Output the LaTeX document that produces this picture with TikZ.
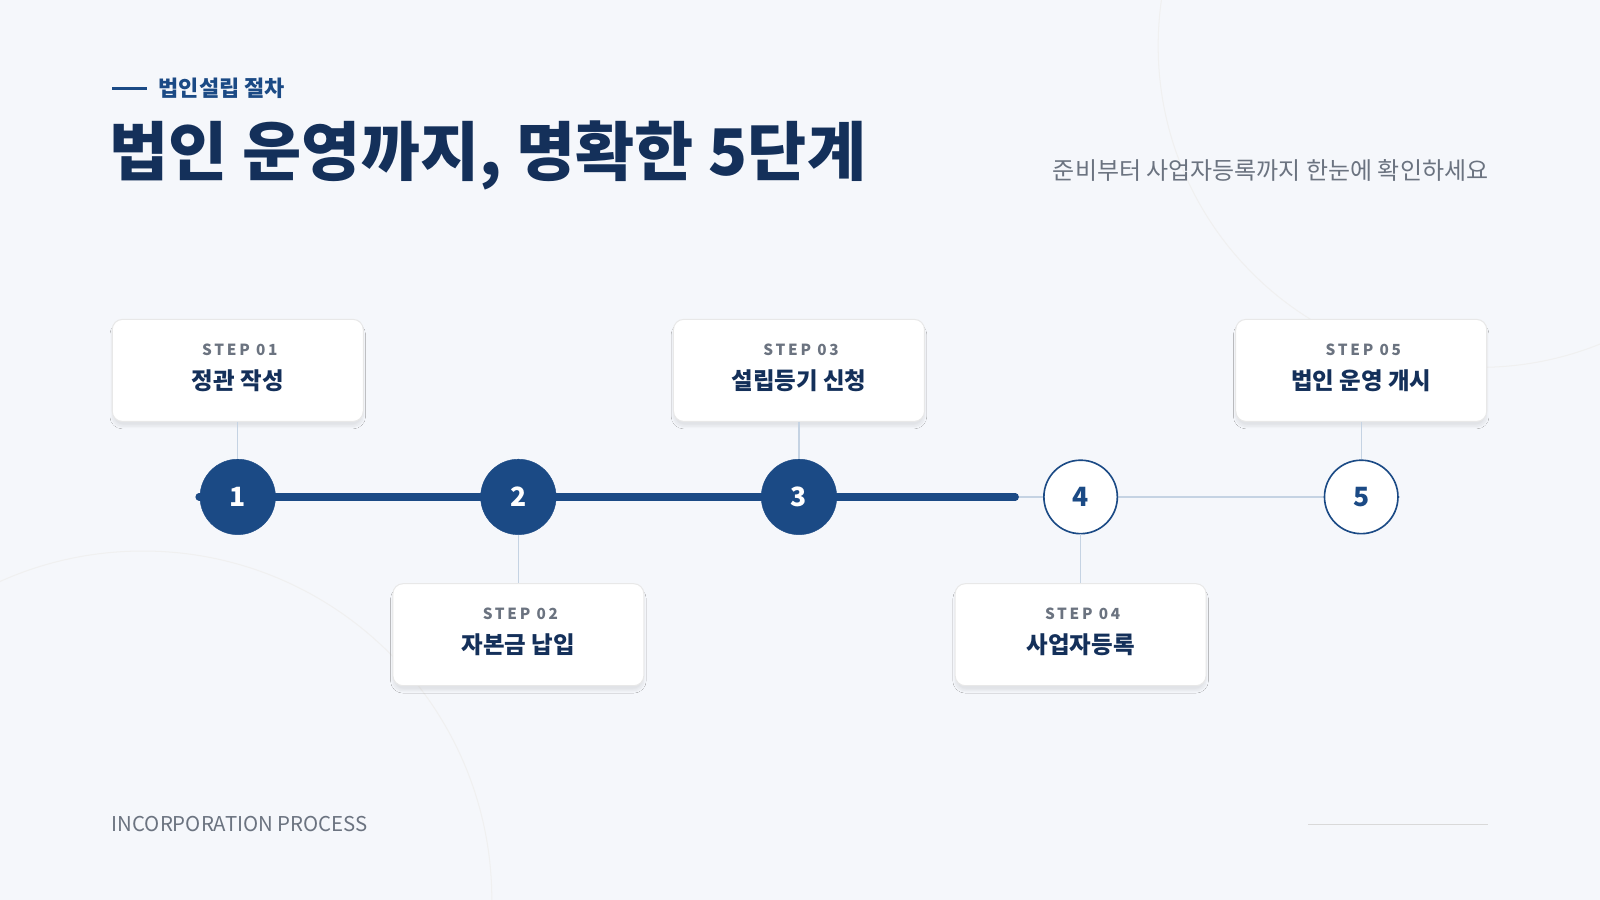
\documentclass[tikz,border=0pt]{standalone}
\usepackage{fontspec}
\setmainfont{Noto Sans CJK KR}
\usetikzlibrary{shadows.blur}
\definecolor{navy}{HTML}{1B4A85}
\definecolor{dnavy}{HTML}{14305A}
\definecolor{gtxt}{HTML}{6B7380}
\definecolor{lline}{HTML}{C5D3E3}
\definecolor{bg}{HTML}{F5F7FB}
\tikzset{
 card/.style={draw=black!9,line width=1pt,fill=white,rounded corners=10pt,minimum width=246pt,minimum height=100pt,blur shadow={shadow blur steps=10,shadow xshift=0pt,shadow yshift=-5pt,shadow opacity=8}},
 full/.style={circle,fill=navy,draw=navy,minimum size=74pt,text=white,font=\fontsize{26}{26}\selectfont\bfseries,inner sep=0pt},
 hollow/.style={circle,fill=white,draw=navy,line width=1.6pt,minimum size=72pt,text=navy,font=\fontsize{26}{26}\selectfont\bfseries,inner sep=0pt},
 steplbl/.style={text=gtxt,font=\fontsize{15}{15}\selectfont\bfseries\addfontfeatures{LetterSpace=18}},
 cardtxt/.style={text=dnavy,font=\fontsize{23}{23}\selectfont\bfseries},
 conn/.style={draw=lline,line width=1pt}
}
\begin{document}
\begin{tikzpicture}[x=1pt,y=-1pt]
\useasboundingbox (0,0) rectangle (1568,882);
\fill[bg] (0,0) rectangle (1568,882);
\begin{scope}
\clip (0,0) rectangle (1568,882);
\draw[black!6,line width=1pt] (1450,45) circle (315);
\draw[black!6,line width=1pt] (140,882) circle (342);
\end{scope}
\draw[navy,line width=2.5pt] (110,87) -- (144,87);
\node[anchor=west,text=navy,font=\fontsize{21.5}{21.5}\selectfont\bfseries] (kick) at (152,87) {법인설립 절차};
\node[anchor=west,text=dnavy,font=\fontsize{63}{63}\selectfont\bfseries] (title) at (104,152) {법인 운영까지, 명확한 5단계};
\node[anchor=east,text=gtxt,font=\fontsize{23.5}{23.5}\selectfont] (sub) at (1462,167) {준비부터 사업자등록까지 한눈에 확인하세요};
\coordinate (ls) at (195,487); \coordinate (lm) at (995,487); \coordinate (le) at (1372,487);
\draw[lline,line width=1.5pt] (lm) -- (le);
\draw[navy,line width=7pt,line cap=round] (ls) -- (lm);
\foreach \i/\x/\y/\s/\t in {1/233/363/01/정관 작성,2/508/622/02/자본금 납입,3/783/363/03/설립등기 신청,4/1059/622/04/사업자등록,5/1334/363/05/법인 운영 개시}{
 \node[card] (c\i) at (\x,\y) {};
 \node[steplbl] (s\i) at (\x+2,\y-20) {STEP \s};
 \node[cardtxt] (t\i) at (\x,\y+10) {\t};
}
\node[full] (n1) at (233,487) {1};
\node[full] (n2) at (508,487) {2};
\node[full] (n3) at (783,487) {3};
\node[hollow] (n4) at (1059,487) {4};
\node[hollow] (n5) at (1334,487) {5};
\foreach \i in {1,3,5}{\draw[conn] (c\i.south) -- (n\i.north);}
\foreach \i in {2,4}{\draw[conn] (n\i.south) -- (c\i.north);}
\node[anchor=west,text=gtxt,font=\fontsize{20}{20}\selectfont] (foot) at (106,808) {INCORPORATION PROCESS};
\draw[black!15,line width=1pt] (1282,808) -- (1458,808);
\end{tikzpicture}
\end{document}
